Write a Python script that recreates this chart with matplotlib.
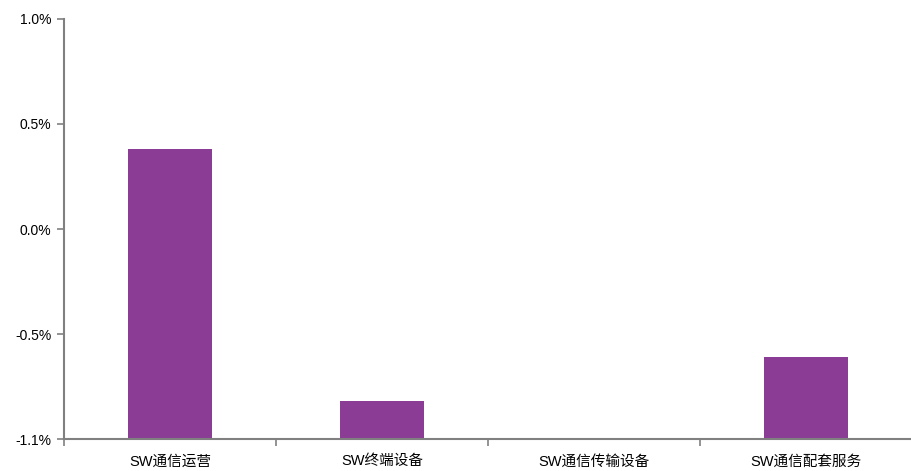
import numpy as np
import matplotlib.pyplot as plt

plt.rcParams['font.family'] = ['Liberation Sans', 'Noto Sans CJK SC']

# 数据
categories = ['SW通信运营', 'SW终端设备', 'SW通信传输设备', 'SW通信配套服务']
values = [0.38, -0.82, -1.0, -0.61]  # 百分比
y_ticks = [-1.0, -0.5, 0.0, 0.5, 1.0]
y_labels = ['-1.1%', '-0.5%', '0.0%', '0.5%', '1.0%']

ymin, ymax = -1.0, 1.0
grey = '#808080'

fig = plt.figure(figsize=(9.12, 4.71), dpi=100)
ax = fig.add_axes([0.0702, 0.0679, 0.9298, 0.8918])

x = np.arange(len(categories))
heights = np.array(values) - ymin
ax.bar(x, heights, bottom=ymin, width=0.4, color='#8B3D96', linewidth=0)

ax.set_xlim(-0.5, len(categories) - 0.5)
ax.set_ylim(ymin, ymax)

ax.set_yticks(y_ticks)
ax.set_yticklabels(y_labels, fontsize=10)
ax.set_xticks(x)
ax.set_xticklabels(categories, fontsize=10.5)
ax.set_xticks(np.arange(len(categories) + 1) - 0.5, minor=True)
ax.tick_params(axis='x', which='major', length=0, pad=11)
ax.tick_params(axis='x', which='minor', length=5, color=grey, width=1.2)
ax.tick_params(axis='y', length=5, color=grey, width=1.2, pad=4)

for side in ['top', 'right']:
    ax.spines[side].set_visible(False)
for side in ['left', 'bottom']:
    ax.spines[side].set_color(grey)
    ax.spines[side].set_linewidth(1.5)

fig.savefig('out.png', dpi=100)
